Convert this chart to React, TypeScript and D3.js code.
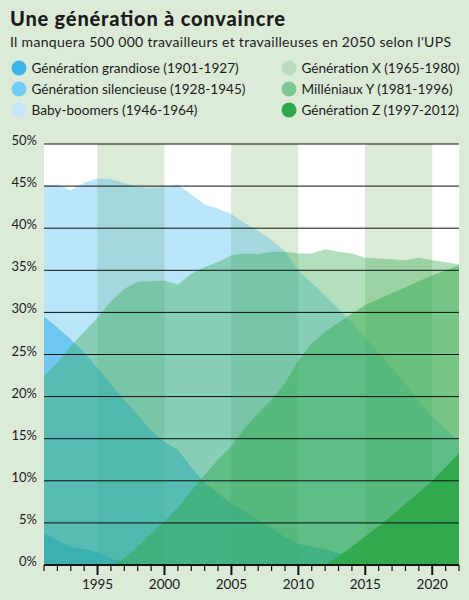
import React, { useEffect, useRef } from 'react';
import * as d3 from 'd3';

// parts de la population active par génération (%), 1991-2022
const years = [1991, 1992, 1993, 1994, 1995, 1996, 1997, 1998, 1999, 2000, 2001, 2002, 2003, 2004, 2005, 2006,
    2007, 2008, 2009, 2010, 2011, 2012, 2013, 2014, 2015, 2016, 2017, 2018, 2019, 2020, 2021, 2022];

const grandiose = [3.8, 2.9, 2.1, 1.9, 1.5, 0.8, 0.3, 0, null, null, null, null, null, null, null, null,
    null, null, null, null, null, null, null, null, null, null, null, null, null, null, null, null];
const silencieuse = [29.5, 28.2, 26.8, 25.2, 23.4, 21.5, 19.6, 17.8, 16.0, 14.6, 13.7, 11.6, 9.8, 8.5, 7.3, 6.4,
    5.4, 4.4, 3.3, 2.5, 2.2, 1.9, 1.4, 0.9, 0.5, 0.2, 0, null, null, null, null, null];
const boomers = [45.1, 45.2, 44.5, 45.4, 45.9, 45.8, 45.4, 44.9, 44.8, 44.9, 45.2, 44.0, 42.8, 42.3, 41.7, 40.6,
    39.7, 38.6, 37.3, 35.0, 33.5, 32.0, 30.4, 28.8, 27.0, 25.2, 23.4, 21.5, 19.5, 17.7, 16.2, 14.6];
const genX = [22.5, 24.0, 26.0, 27.7, 29.4, 31.3, 32.8, 33.6, 33.7, 33.8, 33.3, 34.6, 35.4, 36.0, 36.8, 37.0,
    36.9, 37.2, 37.2, 37.0, 37.0, 37.5, 37.2, 37.0, 36.5, 36.4, 36.3, 36.2, 36.5, 36.2, 36.0, 35.7];
const millenniaux = [null, null, null, null, null, 0, 0.8, 2.2, 3.7, 5.2, 6.8, 8.8, 10.7, 12.5, 14.1, 16.3,
    18.0, 19.6, 21.6, 24.3, 26.3, 27.7, 28.8, 29.8, 30.9, 31.6, 32.3, 33.0, 33.7, 34.4, 35.0, 35.6];
const genZ = [null, null, null, null, null, null, null, null, null, null, null, null, null, null, null, null,
    null, null, null, null, null, 0, 1.0, 2.2, 3.4, 4.6, 5.9, 7.3, 8.6, 10.0, 11.6, 13.3];

const seriesNames = [
    'Génération grandiose (1901-1927)',
    'Génération silencieuse (1928-1945)',
    'Baby-boomers (1946-1964)',
    'Génération X (1965-1980)',
    'Milléniaux Y (1981-1996)',
    'Génération Z (1997-2012)',
];
const legendColors = ['#3db5ec', '#6fcdf6', '#c6e6f7', '#b9dcc0', '#7cc890', '#2ea84a'];
const areaColors = ['#3db5ec', '#3db5ec', '#3db5ec', '#2ea84a', '#2ea84a', '#2ea84a'];
const areaOpacity = [0.9, 0.6, 0.35, 0.37, 0.45, 0.9];

const yTicks = [0, 5, 10, 15, 20, 25, 30, 35, 40, 45, 50];
const xLabels = [1995, 2000, 2005, 2010, 2015, 2020];
const bandEdges = [1991, 1995, 2000, 2005, 2010, 2015, 2020, 2022];

const bg = '#dcebd8';
const ink = '#1b1b1b';
const font = 'Lato, "Open Sans", sans-serif';

export default function App() {
    const ref = useRef<SVGSVGElement>(null);

    useEffect(() => {
        document.body.style.margin = '0';
        const svg = d3.select(ref.current);
        svg.selectAll('*').remove();

        const x = d3.scaleLinear().domain([1991, 2022]).range([44, 459]);
        const y = d3.scaleLinear().domain([0, 50]).range([565, 144]);

        svg.append('rect').attr('width', 469).attr('height', 600).attr('fill', bg);

        // titre
        svg.append('text')
            .attr('x', 10).attr('y', 26)
            .attr('font-family', font).attr('font-weight', 900).attr('font-size', 20)
            .attr('textLength', 275)
            .attr('fill', ink)
            .text('Une génération à convaincre');
        svg.append('text')
            .attr('x', 10).attr('y', 47)
            .attr('font-family', font).attr('font-size', 14)
            .attr('textLength', 441)
            .attr('fill', ink)
            .text("Il manquera 500 000 travailleurs et travailleuses en 2050 selon l'UPS");

        // légende
        const leg = svg.append('g');
        seriesNames.forEach((name, i) => {
            const col = Math.floor(i / 3);
            const row = i % 3;
            const cx = col === 0 ? 19 : 289;
            const cy = 68 + row * 21;
            leg.append('circle').attr('cx', cx).attr('cy', cy).attr('r', 7.5).attr('fill', legendColors[i]);
            leg.append('text')
                .attr('x', cx + 12.5).attr('y', cy + 5)
                .attr('font-family', font).attr('font-size', 13.6)
                .attr('fill', ink)
                .text(name);
        });

        // bandes verticales
        const bands = svg.append('g');
        for (let i = 0; i < bandEdges.length - 1; i++) {
            bands.append('rect')
                .attr('x', x(bandEdges[i]))
                .attr('y', y(50))
                .attr('width', x(bandEdges[i + 1]) - x(bandEdges[i]))
                .attr('height', y(0) - y(50))
                .attr('fill', i % 2 === 0 ? '#ffffff' : bg);
        }

        // aires superposées
        const all = [grandiose, silencieuse, boomers, genX, millenniaux, genZ];
        const area = d3.area<number | null>()
            .defined(d => d != null)
            .x((_, i) => x(years[i]))
            .y0(y(0))
            .y1(d => y(d as number));

        svg.append('g')
            .selectAll('path')
            .data(all)
            .enter().append('path')
            .attr('d', d => area(d))
            .attr('fill', (_, i) => areaColors[i])
            .attr('fill-opacity', (_, i) => areaOpacity[i]);

        // grille
        svg.append('g')
            .selectAll('line')
            .data(yTicks.filter(t => t > 0))
            .enter().append('line')
            .attr('x1', x(1991)).attr('x2', x(2022))
            .attr('y1', d => y(d)).attr('y2', d => y(d))
            .attr('stroke', '#111').attr('stroke-width', 1);

        svg.append('g')
            .selectAll('text')
            .data(yTicks)
            .enter().append('text')
            .attr('x', 37).attr('y', d => y(d) + 1)
            .attr('text-anchor', 'end')
            .attr('font-family', font).attr('font-size', 13)
            .attr('fill', ink)
            .text(d => `${d}%`);

        // axe x
        svg.append('line')
            .attr('x1', x(1991)).attr('x2', x(2022))
            .attr('y1', y(0)).attr('y2', y(0))
            .attr('stroke', '#111').attr('stroke-width', 2);

        svg.append('g')
            .selectAll('line')
            .data(years)
            .enter().append('line')
            .attr('x1', d => x(d)).attr('x2', d => x(d))
            .attr('y1', y(0))
            .attr('y2', d => y(0) + (xLabels.includes(d) ? 10 : 6))
            .attr('stroke', '#111')
            .attr('stroke-width', d => (xLabels.includes(d) ? 2 : 1.2));

        svg.append('g')
            .selectAll('text')
            .data(xLabels)
            .enter().append('text')
            .attr('x', d => x(d)).attr('y', 589)
            .attr('text-anchor', 'middle')
            .attr('font-family', font).attr('font-size', 13.5)
            .attr('fill', ink)
            .text(d => String(d));
    }, []);

    return <svg ref={ref} width={469} height={600} style={{ display: 'block' }} />;
}
